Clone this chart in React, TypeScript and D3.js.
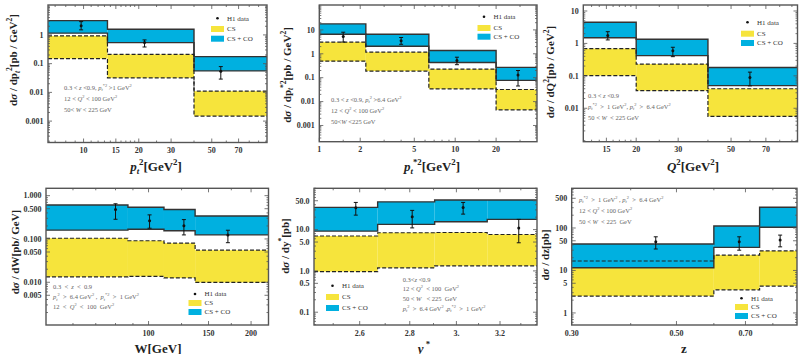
import React from 'react';
import * as d3 from 'd3';

// p_t^2 panel
const ptEdges = [6.4, 13.5, 40, 100];
const ptCsLow = [0.15, 0.032, 0.0015];
const ptCsHigh = [0.92, 0.21, 0.011];
const ptCoLow = [1.15, 0.54, 0.056];
const ptCoHigh = [3.15, 1.58, 0.175];
const ptDataX = [9.7, 21.5, 56];
const ptDataY = [2.1, 0.54, 0.054];
const ptErrLow = [1.5, 0.38, 0.029];
const ptErrHigh = [2.9, 0.67, 0.079];
const ptXTicks = [10, 15, 20, 30, 50, 70];
const ptXLabels = ['10', '15', '20', '30', '50', '70'];
const ptYTicks = [1, 0.1, 0.01, 0.001];
const ptYLabels = ['1', '0.1', '0.01', '0.001'];

// p_t*^2 panel
const ptsEdges = [1, 2.2, 6.4, 20, 40];
const ptsCsLow = [0.49, 0.19, 0.034, 0.0045];
const ptsCsHigh = [3.07, 1.17, 0.23, 0.032];
const ptsCoLow = [6.6, 2.08, 0.43, 0.077];
const ptsCoHigh = [17.8, 6.6, 1.38, 0.27];
const ptsDataX = [1.5, 4.0, 10.3, 29];
const ptsDataY = [5.3, 3.5, 0.52, 0.13];
const ptsErrLow = [3.1, 2.5, 0.35, 0.045];
const ptsErrHigh = [8, 4.8, 0.72, 0.2];
const ptsXTicks = [1, 2, 5, 10, 20];
const ptsXLabels = ['1', '2', '5', '10', '20'];
const ptsYTicks = [10, 1, 0.1, 0.01, 0.001];
const ptsYLabels = ['10', '1', '0.1', '0.01', '0.001'];

// Q^2 panel
const q2Edges = [12, 20, 40, 100];
const q2CsLow = [0.102, 0.035, 0.0056];
const q2CsHigh = [0.69, 0.23, 0.04];
const q2CoLow = [1.5, 0.42, 0.05];
const q2CoHigh = [4.5, 1.35, 0.18];
const q2DataX = [15.2, 28.5, 60];
const q2DataY = [1.74, 0.59, 0.089];
const q2ErrLow = [1.28, 0.39, 0.049];
const q2ErrHigh = [2.3, 0.76, 0.13];
const q2XTicks = [15, 20, 30, 50, 70];
const q2XLabels = ['15', '20', '30', '50', '70'];
const q2YTicks = [10, 1, 0.1, 0.01];
const q2YLabels = ['10', '1', '0.1', '0.01'];

// W panel
const wEdges = [50, 87, 111, 137, 225];
const wCsLow = [0.0133, 0.0137, 0.0126, 0.0099];
const wCsHigh = [0.104, 0.091, 0.08, 0.055];
const wCoLow = [0.16, 0.167, 0.155, 0.124];
const wCoHigh = [0.61, 0.54, 0.48, 0.34];
const wDataX = [80, 100.7, 127, 171];
const wDataY = [0.48, 0.265, 0.203, 0.124];
const wErrLow = [0.285, 0.177, 0.124, 0.082];
const wErrHigh = [0.65, 0.36, 0.28, 0.159];
const wXTicks = [100, 150, 200];
const wXLabels = ['100', '150', '200'];
const wYTicks = [1, 0.5, 0.1, 0.05, 0.01, 0.005];
const wYLabels = ['1.000', '0.500', '0.100', '0.050', '0.010', '0.005'];

// y* panel
const ysEdges = [2.43, 2.67, 2.905, 3.14, 3.38];
const ysCsLow = [0.96, 1.19, 1.33, 1.33];
const ysCsHigh = [7.0, 8.4, 8.5, 7.6];
const ysCoLow = [9.2, 13.4, 15.5, 17.7];
const ysCoHigh = [34.5, 47, 52, 52];
const ysDataX = [2.585, 2.81, 3.03, 3.29];
const ysDataY = [33.7, 20.4, 34.5, 11];
const ysErrLow = [22.4, 11, 23.7, 4.8];
const ysErrHigh = [45.5, 29.2, 45.5, 17.7];
const ysXTicks = [2.6, 2.8, 3.0, 3.2];
const ysXLabels = ['2.6', '2.8', '3.', '3.2'];
const ysYTicks = [50, 10, 5, 1, 0.5, 0.1];
const ysYLabels = ['50.0', '10.0', '5.0', '1.0', '0.5', '0.1'];

// z panel
const zEdges = [0.3, 0.6, 0.75, 0.9];
const zCsLow = [2.5, 3.5, 4.3];
const zCsHigh = [16.7, 23, 28.8];
const zCoLow = [11.6, 35, 104];
const zCoHigh = [42, 111, 307];
const zDataX = [0.452, 0.679, 0.829];
const zDataY = [47.6, 47.6, 52];
const zErrLow = [32, 30, 36];
const zErrHigh = [62, 62, 68];
const zXTicks = [0.3, 0.5, 0.7];
const zXLabels = ['0.30', '0.50', '0.70'];
const zYTicks = [500, 100, 50, 10, 5, 1];
const zYLabels = ['500', '100', '50', '10', '5', '1'];

const BLUE = '#00b0e0';
const YELLOW = '#f6e43c';
const SERIF = '"Liberation Serif", "DejaVu Serif", serif';

type Panel = {
  x0: number; x1: number; y0: number; y1: number;
  xDomain: [number, number]; yDomain: [number, number];
  edges: number[]; csLow: number[]; csHigh: number[]; coLow: number[]; coHigh: number[];
  dataX: number[]; dataY: number[]; errLow: number[]; errHigh: number[];
  xTicks: number[]; xLabels: string[]; xMinor: number[];
  yTicks: number[]; yLabels: string[];
  xTitle: string; xTitleX: number; xTitleY: number;
  yTitle: string; yTitleX: number; yTitleY: number;
  legX: number; legY: number[];
  notes: string[]; noteX: number; noteY: number[];
};

const panels: Panel[] = [
  {
    x0: 48, x1: 267, y0: 5, y1: 142.5, xDomain: [6.4, 100], yDomain: [0.00018, 11],
    edges: ptEdges, csLow: ptCsLow, csHigh: ptCsHigh, coLow: ptCoLow, coHigh: ptCoHigh,
    dataX: ptDataX, dataY: ptDataY, errLow: ptErrLow, errHigh: ptErrHigh,
    xTicks: ptXTicks, xLabels: ptXLabels, xMinor: [7, 8, 9, 11, 12, 13, 14, 16, 17, 18, 19, 25, 40, 60, 80, 90],
    yTicks: ptYTicks, yLabels: ptYLabels,
    xTitle: '*{p}_{t}^{2}[GeV^{2}]', xTitleX: 156, xTitleY: 170.5,
    yTitle: 'd*{σ} / dp_{t}^{2}[pb / GeV^{2}]', yTitleX: 17, yTitleY: 60,
    legX: 211, legY: [18.3, 29, 38.7],
    notes: ['0.3 < *{z} <0.9, *{p}_{t}^{*2} >1 GeV^{2}', '12 < *{Q}^{2} < 100 GeV^{2}', '50< *{W} < 225 GeV'],
    noteX: 64, noteY: [89.5, 100.5, 111.5],
  },
  {
    x0: 319.3, x1: 537, y0: 5, y1: 141.7, xDomain: [1, 40], yDomain: [0.00021, 110],
    edges: ptsEdges, csLow: ptsCsLow, csHigh: ptsCsHigh, coLow: ptsCoLow, coHigh: ptsCoHigh,
    dataX: ptsDataX, dataY: ptsDataY, errLow: ptsErrLow, errHigh: ptsErrHigh,
    xTicks: ptsXTicks, xLabels: ptsXLabels, xMinor: [1.5, 3, 4, 6, 7, 8, 9, 15, 30],
    yTicks: ptsYTicks, yLabels: ptsYLabels,
    xTitle: '*{p}_{t}^{*2}[GeV^{2}]', xTitleX: 432, xTitleY: 170.5,
    yTitle: 'd*{σ} / dp_{t}^{*2}[pb / GeV^{2}]', yTitleX: 290.5, yTitleY: 75,
    legX: 477.5, legY: [16.7, 28, 36.7],
    notes: ['0.3 < *{z} <0.9, *{p}_{t}^{2} >6.4 GeV^{2}', '12 < *{Q}^{2} < 100 GeV^{2}', '50<*{W} <225 GeV'],
    noteX: 331, noteY: [101.5, 112.5, 123.5],
  },
  {
    x0: 583.3, x1: 797.5, y0: 5, y1: 141.7, xDomain: [12, 95], yDomain: [0.00093, 15.3],
    edges: q2Edges, csLow: q2CsLow, csHigh: q2CsHigh, coLow: q2CoLow, coHigh: q2CoHigh,
    dataX: q2DataX, dataY: q2DataY, errLow: q2ErrLow, errHigh: q2ErrHigh,
    xTicks: q2XTicks, xLabels: q2XLabels, xMinor: [13, 14, 16, 17, 18, 19, 25, 40, 60, 80, 90],
    yTicks: q2YTicks, yLabels: q2YLabels,
    xTitle: '*{Q}^{2}[GeV^{2}]', xTitleX: 693, xTitleY: 170.5,
    yTitle: 'd*{σ} / dQ^{2}[pb / GeV^{2}]', yTitleX: 554, yTitleY: 72,
    legX: 741, legY: [22.3, 33.7, 43],
    notes: ['0.3 < *{z} <0.9', '*{p}_{t}^{*2}  >  1 GeV^{2}, *{p}_{t}^{2}  >  6.4 GeV^{2}', '50 < *{W}  < 225 GeV'],
    noteX: 588, noteY: [97.5, 108.5, 119.5],
  },
  {
    x0: 46, x1: 268.5, y0: 188.3, y1: 325, xDomain: [50, 225], yDomain: [0.00103, 1.48],
    edges: wEdges, csLow: wCsLow, csHigh: wCsHigh, coLow: wCoLow, coHigh: wCoHigh,
    dataX: wDataX, dataY: wDataY, errLow: wErrLow, errHigh: wErrHigh,
    xTicks: wXTicks, xLabels: wXLabels, xMinor: [60, 70, 80, 90, 125, 175],
    yTicks: wYTicks, yLabels: wYLabels,
    xTitle: 'W[GeV]', xTitleX: 158, xTitleY: 352.5,
    yTitle: 'd*{σ} / dW[pb/ GeV]', yTitleX: 19, yTitleY: 252,
    legX: 188.5, legY: [294, 303, 312],
    notes: ['0.3  <  *{z}  <  0.9', '*{p}_{t}^{2}  >  6.4 GeV^{2} ,  *{p}_{t}^{*2}  >  1 GeV^{2}', '12  <  *{Q}^{2}  <  100  GeV^{2}'],
    noteX: 53, noteY: [289, 299, 309],
  },
  {
    x0: 314, x1: 537, y0: 188.3, y1: 325, xDomain: [2.43, 3.38], yDomain: [0.049, 100],
    edges: ysEdges, csLow: ysCsLow, csHigh: ysCsHigh, coLow: ysCoLow, coHigh: ysCoHigh,
    dataX: ysDataX, dataY: ysDataY, errLow: ysErrLow, errHigh: ysErrHigh,
    xTicks: ysXTicks, xLabels: ysXLabels, xMinor: [2.5, 2.7, 2.9, 3.1, 3.3],
    yTicks: ysYTicks, yLabels: ysYLabels,
    xTitle: '*{y}^{ *}', xTitleX: 424, xTitleY: 352.5,
    yTitle: 'd*{σ} / dy^{*}[pb]', yTitleX: 289, yTitleY: 246,
    legX: 326, legY: [285.7, 297, 308],
    notes: ['0.3<*{z} <0.9', '12 < *{Q}^{2}  < 100  GeV^{2}', '50 < *{W}   < 225  GeV', '*{p}_{t}^{2}  >  6.4 GeV^{2} ,*{p}_{t}^{*2}  >  1 GeV^{2}'],
    noteX: 402.7, noteY: [281.5, 290.5, 300.5, 310.5],
  },
  {
    x0: 571.7, x1: 797, y0: 188.3, y1: 325, xDomain: [0.3, 0.9], yDomain: [0.52, 860],
    edges: zEdges, csLow: zCsLow, csHigh: zCsHigh, coLow: zCoLow, coHigh: zCoHigh,
    dataX: zDataX, dataY: zDataY, errLow: zErrLow, errHigh: zErrHigh,
    xTicks: zXTicks, xLabels: zXLabels, xMinor: [0.4, 0.6, 0.8],
    yTicks: zYTicks, yLabels: zYLabels,
    xTitle: 'z', xTitleX: 684, xTitleY: 352.5,
    yTitle: 'd*{σ} / dz[pb]', yTitleX: 549, yTitleY: 255,
    legX: 735, legY: [298.3, 307, 316],
    notes: ['*{p}_{t}^{*2}  >  1 GeV^{2} , *{p}_{t}^{2}  >  6.4 GeV^{2}', '12 < *{Q}^{2} < 100 GeV^{2}', '50 < *{W}  < 225  GeV'],
    noteX: 579, noteY: [201.5, 213, 224],
  },
];

// tiny markup: ^{..} superscript, _{..} subscript (italic), *{..} italic
function rich(str: string, fs: number) {
  const parts = str.split(/(\^\{[^}]*\}|_\{[^}]*\}|\*\{[^}]*\})/).filter((s) => s);
  let shift = 0;
  const out = parts.map((p, i) => {
    let text = p;
    let target = 0;
    let size = fs;
    let style = 'normal';
    if (p.startsWith('^{')) { text = p.slice(2, -1); target = -fs * 0.42; size = fs * 0.68; }
    else if (p.startsWith('_{')) { text = p.slice(2, -1); target = fs * 0.25; size = fs * 0.68; style = 'italic'; }
    else if (p.startsWith('*{')) { text = p.slice(2, -1); style = 'italic'; }
    const dy = target - shift;
    shift = target;
    return <tspan key={i} dy={dy} fontSize={size} fontStyle={style}>{text}</tspan>;
  });
  return out;
}

function minorLog(domain: [number, number]) {
  const out: number[] = [];
  const lo = Math.floor(Math.log10(domain[0]));
  const hi = Math.ceil(Math.log10(domain[1]));
  for (let k = lo; k <= hi; k++) {
    for (let m = 1; m <= 9; m++) {
      const v = m * Math.pow(10, k);
      if (v >= domain[0] && v <= domain[1]) out.push(v);
    }
  }
  return out;
}

const PanelView: React.FC<{ p: Panel; idx: number }> = ({ p, idx }) => {
  const xs = d3.scaleLog().domain(p.xDomain).range([p.x0, p.x1]);
  const ys = d3.scaleLog().domain(p.yDomain).range([p.y1, p.y0]);
  const n = p.edges.length - 1;
  const step = d3.line<[number, number]>().x((d) => xs(d[0])).y((d) => ys(d[1])).curve(d3.curveStepAfter);
  const pts = (vals: number[]): [number, number][] => [
    ...vals.map((v, i) => [p.edges[i], v] as [number, number]),
    [p.edges[n], vals[n - 1]],
  ];
  const clipId = `clip${idx}`;
  const yMinor = minorLog(p.yDomain);
  const frame = '#555';

  return (
    <g>
      <defs>
        <clipPath id={clipId}>
          <rect x={p.x0} y={p.y0} width={p.x1 - p.x0} height={p.y1 - p.y0} />
        </clipPath>
      </defs>
      <g clipPath={`url(#${clipId})`}>
        {p.csLow.map((v, i) => (
          <rect key={`cs${i}`} x={xs(p.edges[i])} width={xs(p.edges[i + 1]) - xs(p.edges[i])}
            y={ys(p.csHigh[i])} height={ys(v) - ys(p.csHigh[i])} fill={YELLOW} />
        ))}
        {p.coLow.map((v, i) => (
          <rect key={`co${i}`} x={xs(p.edges[i])} width={xs(p.edges[i + 1]) - xs(p.edges[i])}
            y={ys(p.coHigh[i])} height={ys(v) - ys(p.coHigh[i])} fill={BLUE} />
        ))}
        <path d={step(pts(p.coHigh)) || ''} fill="none" stroke="#333" strokeWidth={1.4} />
        <path d={step(pts(p.coLow)) || ''} fill="none" stroke="#333" strokeWidth={1.4} />
        <path d={step(pts(p.csHigh)) || ''} fill="none" stroke="#222" strokeWidth={1.2} strokeDasharray="4 2" />
        <path d={step(pts(p.csLow)) || ''} fill="none" stroke="#222" strokeWidth={1.2} strokeDasharray="4 2" />
      </g>
      {/* data with error bars */}
      {p.dataX.map((x, i) => (
        <g key={`d${i}`} stroke="#111" strokeWidth={1}>
          <line x1={xs(x)} x2={xs(x)} y1={ys(p.errLow[i])} y2={ys(p.errHigh[i])} />
          <line x1={xs(x) - 2} x2={xs(x) + 2} y1={ys(p.errLow[i])} y2={ys(p.errLow[i])} />
          <line x1={xs(x) - 2} x2={xs(x) + 2} y1={ys(p.errHigh[i])} y2={ys(p.errHigh[i])} />
          <circle cx={xs(x)} cy={ys(p.dataY[i])} r={1.5} fill="#111" stroke="none" />
        </g>
      ))}
      {/* ticks */}
      <g stroke={frame} strokeWidth={0.8}>
        {p.xTicks.map((t) => (
          <g key={`xt${t}`}>
            <line x1={xs(t)} x2={xs(t)} y1={p.y1} y2={p.y1 - 4} />
            <line x1={xs(t)} x2={xs(t)} y1={p.y0} y2={p.y0 + 4} />
          </g>
        ))}
        {p.xMinor.map((t) => (
          <g key={`xm${t}`}>
            <line x1={xs(t)} x2={xs(t)} y1={p.y1} y2={p.y1 - 2} />
            <line x1={xs(t)} x2={xs(t)} y1={p.y0} y2={p.y0 + 2} />
          </g>
        ))}
        {yMinor.map((t) => {
          const major = p.yTicks.some((m) => Math.abs(m - t) / t < 1e-6);
          const len = major ? 4 : 2;
          return (
            <g key={`ym${t}`}>
              <line x1={p.x0} x2={p.x0 + len} y1={ys(t)} y2={ys(t)} />
              <line x1={p.x1} x2={p.x1 - len} y1={ys(t)} y2={ys(t)} />
            </g>
          );
        })}
      </g>
      <rect x={p.x0} y={p.y0} width={p.x1 - p.x0} height={p.y1 - p.y0} fill="none" stroke={frame} strokeWidth={1.4} />
      {/* tick labels */}
      <g fontFamily={SERIF} fontWeight="bold" fontSize={8} fill="#333">
        {p.xTicks.map((t, i) => (
          <text key={`xl${t}`} x={xs(t)} y={p.y1 + 10.5} textAnchor="middle">{p.xLabels[i]}</text>
        ))}
        {p.yTicks.map((t, i) => (
          <text key={`yl${t}`} x={p.x0 - 4.5} y={ys(t) + 2.8} textAnchor="end">{p.yLabels[i]}</text>
        ))}
      </g>
      {/* axis titles */}
      <text x={p.xTitleX} y={p.xTitleY} textAnchor="middle" fontFamily={SERIF} fontWeight="bold" fontSize={13} fill="#222">
        {rich(p.xTitle, 13)}
      </text>
      <text transform={`translate(${p.yTitleX},${p.yTitleY}) rotate(-90)`} textAnchor="middle"
        fontFamily={SERIF} fontWeight="bold" fontSize={11} fill="#222">
        {rich(p.yTitle, 11)}
      </text>
      {/* legend */}
      <g fontFamily={SERIF} fontSize={7} fill="#333">
        <circle cx={p.legX + 6.5} cy={p.legY[0]} r={1.3} fill="#111" />
        <text x={p.legX + 16} y={p.legY[0] + 2.4}>H1 data</text>
        <rect x={p.legX} y={p.legY[1] - 3} width={13} height={6} fill={YELLOW} />
        <text x={p.legX + 16} y={p.legY[1] + 2.4}>CS</text>
        <rect x={p.legX} y={p.legY[2] - 3} width={13} height={6} fill={BLUE} />
        <text x={p.legX + 16} y={p.legY[2] + 2.4}>CS + CO</text>
      </g>
      {/* kinematic cuts */}
      <g fontFamily={SERIF} fontSize={6.5} fill="#666">
        {p.notes.map((s, i) => (
          <text key={`n${i}`} x={p.noteX} y={p.noteY[i]} xmlSpace="preserve" style={{ whiteSpace: 'pre' }}>{rich(s, 6.5)}</text>
        ))}
      </g>
    </g>
  );
};

const App: React.FC = () => {
  return (
    <svg width={800} height={354} style={{ position: 'absolute', left: 0, top: 0, background: '#fff' }}>
      {panels.map((p, i) => <PanelView key={i} p={p} idx={i} />)}
    </svg>
  );
};

export default App;
